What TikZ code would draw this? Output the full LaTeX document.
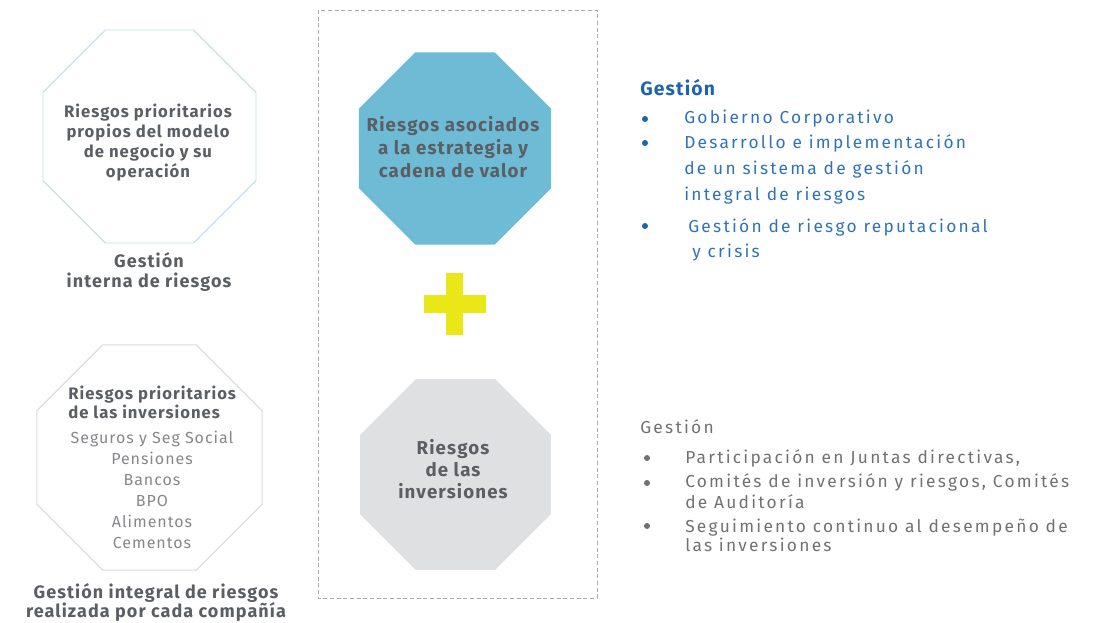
\documentclass[tikz,border=0pt]{standalone}
\usepackage{fontspec}
\setmainfont{Fira Sans}
\newfontfamily\widefont[LetterSpace=13]{Fira Sans}
\newfontfamily\midfont[LetterSpace=6]{Fira Sans}
\usepackage{xcolor}
\usepackage{tikz}
\usetikzlibrary{shapes}
\usetikzlibrary{shapes.geometric}
\definecolor{octline}{HTML}{BDDFEA}
\definecolor{octgrey}{HTML}{DADADA}
\definecolor{octblue}{HTML}{6DBBD5}
\definecolor{octfill}{HTML}{DFE0E2}
\definecolor{plusyellow}{HTML}{EAE718}
\definecolor{frame}{HTML}{ABABAB}
\definecolor{txtdark}{HTML}{5B5E63}
\definecolor{txtlight}{HTML}{85878A}
\definecolor{txtgrey}{HTML}{707174}
\definecolor{headblue}{HTML}{1F63AD}
\definecolor{itemblue}{HTML}{3072B9}
\tikzset{>=latex}
\tikzstyle{octa} = [regular polygon, regular polygon sides = 8, inner sep = 0, outer sep = 0]
\tikzstyle{boldtxt} = [draw = none, inner sep = 0, align = center, text = txtdark]
\tikzstyle{item} = [draw = none, inner sep = 0, anchor = west, align = left]
\tikzstyle{dot} = [circle, draw = none, inner sep = 0, minimum size = 4.5pt]

\begin{document}
\begin{tikzpicture}[x = 0.75pt, y = -0.75pt]
\useasboundingbox (0, 0) rectangle (1113, 623);
\draw [frame, line width = 0.6pt, dash pattern = on 3pt off 2pt] (318, 10) rectangle (597, 598);
\node [octa, draw = octline, line width = 0.7pt, minimum size = 172.9pt] (O1) at (149.5, 136.5) {};
\node [octa, draw = octgrey, line width = 0.7pt, minimum size = 183pt] (O2) at (149.5, 457.5) {};
\node [octa, fill = octblue, minimum size = 156pt] (O3) at (455, 148.5) {};
\node [octa, fill = octfill, minimum size = 155pt] (O4) at (455.5, 474.5) {};
\fill [plusyellow] (446, 273) rectangle (463, 335);
\fill [plusyellow] (424, 295) rectangle (486, 313);
\node [boldtxt, font = {\midfont\bfseries\fontsize{12.5}{14.8}\selectfont}] (O1txt) at (148, 142.5) {Riesgos prioritarios\\propios del modelo\\de negocio y su\\operación};
\node [boldtxt, font = {\midfont\bfseries\fontsize{13.5}{15}\selectfont}] (O1lbl) at (149, 272) {Gestión\\interna de riesgos};
\node [boldtxt, font = {\midfont\bfseries\fontsize{14}{17.25}\selectfont}] (O3txt) at (453, 147) {Riesgos asociados\\a la estrategia y\\cadena de valor};
\node [boldtxt, font = {\midfont\bfseries\fontsize{14}{16.5}\selectfont}] (O4txt) at (453, 469) {Riesgos\\de las\\inversiones};
\node [boldtxt, anchor = west, align = left, font = {\midfont\bfseries\fontsize{12.5}{14.3}\selectfont}] (O2head) at (68, 402.5) {Riesgos prioritarios\\de las inversiones};
\node [boldtxt, text = txtlight, font = {\midfont\fontsize{12}{15.75}\selectfont}] (O2list) at (152, 489.5) {Seguros y Seg Social\\Pensiones\\Bancos\\BPO\\Alimentos\\Cementos};
\node [boldtxt, font = {\midfont\bfseries\fontsize{13.5}{14.3}\selectfont}] (O2lbl) at (156, 602.5) {Gestión integral de riesgos\\realizada por cada compañía};
\node [item, text = headblue, font = {\midfont\bfseries\fontsize{14.5}{15}\selectfont}] (G1) at (640, 88) {Gestión};
\node [dot, fill = headblue] (B1) at (645, 119) {};
\node [dot, fill = headblue] (B2) at (645, 143) {};
\node [dot, fill = headblue] (B3) at (645, 226) {};
\node [item, text = itemblue, font = {\widefont\fontsize{13}{19.5}\selectfont}] (I1) at (684, 119) {Gobierno Corporativo};
\node [item, text = itemblue, font = {\widefont\fontsize{13}{19.5}\selectfont}] (I2) at (684, 169) {Desarrollo e implementación\\de un sistema de gestión\\integral de riesgos};
\node [item, text = itemblue, font = {\widefont\fontsize{13}{18.75}\selectfont}] (I3) at (688, 239.5) {Gestión de riesgo reputacional\\\hspace*{3pt}y crisis};
\node [item, text = txtgrey, font = {\widefont\fontsize{13}{15}\selectfont}] (G2) at (640, 427) {Gestión};
\node [dot, fill = txtgrey] (B4) at (647, 458) {};
\node [dot, fill = txtgrey] (B5) at (647, 483) {};
\node [dot, fill = txtgrey] (B6) at (647, 526) {};
\node [item, text = txtgrey, font = {\widefont\fontsize{13}{15.75}\selectfont}] (J1) at (685, 458) {Participación en Juntas directivas,};
\node [item, text = txtgrey, font = {\widefont\fontsize{13}{15.75}\selectfont}] (J2) at (685, 491.5) {Comités de inversión y riesgos, Comités\\de Auditoría};
\node [item, text = txtgrey, font = {\widefont\fontsize{13}{14.25}\selectfont}] (J3) at (685, 535.5) {Seguimiento continuo al desempeño de\\las inversiones};
\end{tikzpicture}
\end{document}
